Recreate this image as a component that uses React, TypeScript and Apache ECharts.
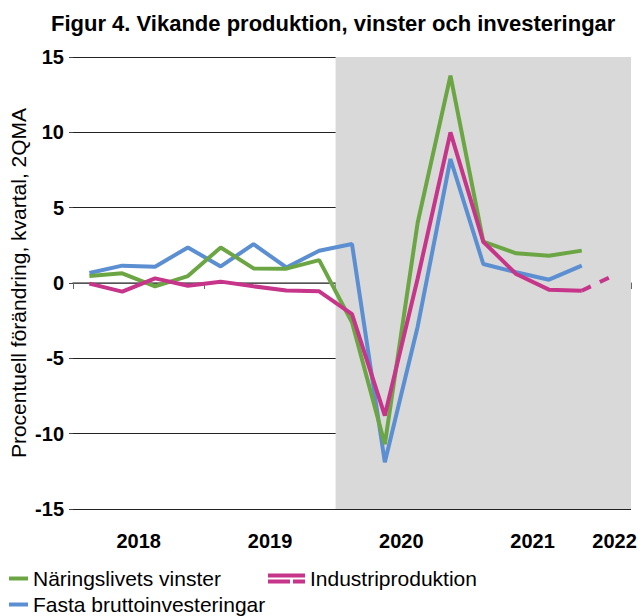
import React, { useEffect, useRef } from "react";
import * as echarts from "echarts";

const quarters = [
  "2018K1", "2018K2", "2018K3", "2018K4",
  "2019K1", "2019K2", "2019K3", "2019K4",
  "2020K1", "2020K2", "2020K3", "2020K4",
  "2021K1", "2021K2", "2021K3", "2021K4",
  "2022K1",
];

const vinster = [0.46, 0.64, -0.22, 0.46, 2.36, 0.97, 0.95, 1.52, -2.61, -10.7, 4.0, 13.76, 2.74, 1.97, 1.81, 2.15, null];
const industri = [-0.04, -0.57, 0.31, -0.18, 0.09, -0.22, -0.5, -0.55, -2.06, -8.8, 0.3, 10.0, 2.74, 0.6, -0.44, -0.51, null];
const industriPrognos = [null, null, null, null, null, null, null, null, null, null, null, null, null, null, null, -0.51, 0.53];
const investeringar = [0.66, 1.15, 1.08, 2.36, 1.1, 2.58, 1.03, 2.14, 2.59, -11.9, -2.9, 8.23, 1.26, 0.71, 0.22, 1.15, null];

const shadeFrom = 8; // index of 2020K1
const shadeTo = 17;

const FONT = "'Liberation Sans', Arial, sans-serif";
const GREEN = "#6CA644";
const MAGENTA = "#C6358A";
const BLUE = "#5B8FD1";

export default function App() {
  const ref = useRef<HTMLDivElement>(null);
  useEffect(() => {
    if (!ref.current) return;
    const chart = echarts.init(ref.current, null, { renderer: "svg" });
    const legendText = { fontFamily: FONT, fontSize: 21, color: "#000" };
    chart.setOption({
      animation: false,
      textStyle: { fontFamily: FONT },
      title: {
        text: "Figur 4. Vikande produktion, vinster och investeringar",
        left: 46,
        top: 7,
        textStyle: { fontFamily: FONT, fontSize: 22, fontWeight: "bold", color: "#000" },
      },
      grid: { left: 73, right: 13, top: 57, bottom: 107, containLabel: false, outerBoundsMode: "none" },
      legend: [
        {
          left: 9,
          top: 568,
          padding: 0,
          icon: "rect",
          itemWidth: 19,
          itemHeight: 4,
          data: ["Näringslivets vinster"],
          textStyle: legendText,
        },
        {
          left: 268,
          top: 568,
          padding: 0,
          icon: "path://M0,0H37V4H0Z M0,6H22V10H0Z M25,6H37V10H25Z",
          itemWidth: 37,
          itemHeight: 10,
          data: ["Industriproduktion"],
          textStyle: legendText,
        },
        {
          left: 9,
          top: 594,
          padding: 0,
          icon: "rect",
          itemWidth: 19,
          itemHeight: 4,
          data: ["Fasta bruttoinvesteringar"],
          textStyle: legendText,
        },
      ],
      xAxis: [
        {
          type: "category",
          data: quarters,
          boundaryGap: true,
          axisLine: { show: true, lineStyle: { color: "#666", width: 1.5 } },
          axisTick: { show: true, interval: 3, length: 6, lineStyle: { color: "#666" } },
          axisLabel: {
            interval: 0,
            margin: 22,
            formatter: (v: string) => {
              if (v.endsWith("K2")) return "{a|" + v.slice(0, 4) + "}";
              if (v === "2022K1") return "{b|2022}";
              return "";
            },
            rich: {
              a: { fontFamily: FONT, fontSize: 20, fontWeight: "bold", color: "#000", padding: [0, 0, 0, 33] },
              b: { fontFamily: FONT, fontSize: 20, fontWeight: "bold", color: "#000" },
            },
          },
          splitLine: { show: false },
        },
        {
          type: "value",
          min: 0,
          max: 17,
          show: false,
          splitLine: { show: false },
        },
      ],
      yAxis: {
        type: "value",
        min: -15,
        max: 15,
        interval: 5,
        name: "Procentuell förändring, kvartal, 2QMA",
        nameLocation: "middle",
        nameGap: 44,
        nameMoveOverlap: false,
        nameTextStyle: { fontFamily: FONT, fontSize: 21, color: "#000" },
        axisLine: { show: false },
        axisTick: { show: true, length: 4, lineStyle: { color: "#444" } },
        axisLabel: { margin: 9, fontFamily: FONT, fontSize: 20, fontWeight: "bold", color: "#000" },
        splitLine: { show: true, lineStyle: { color: "#222", width: 1 } },
      },
      series: [
        {
          name: "shade",
          type: "line",
          xAxisIndex: 1,
          data: [],
          z: -10,
          silent: true,
          markArea: {
            silent: true,
            itemStyle: { color: "#D9D9D9" },
            data: [[{ xAxis: shadeFrom }, { xAxis: shadeTo }]],
          },
        },
        {
          name: "Näringslivets vinster",
          type: "line",
          data: vinster,
          showSymbol: false,
          symbol: "none",
          itemStyle: { color: GREEN },
          lineStyle: { color: GREEN, width: 4 },
          z: 3,
        },
        {
          name: "Industriproduktion",
          type: "line",
          data: industri,
          showSymbol: false,
          symbol: "none",
          itemStyle: { color: MAGENTA },
          lineStyle: { color: MAGENTA, width: 4 },
          z: 4,
        },
        {
          name: "Industriproduktion",
          type: "line",
          data: industriPrognos,
          showSymbol: false,
          symbol: "none",
          itemStyle: { color: MAGENTA },
          lineStyle: { color: MAGENTA, width: 4, type: [10, 10] },
          z: 4,
        },
        {
          name: "Fasta bruttoinvesteringar",
          type: "line",
          data: investeringar,
          showSymbol: false,
          symbol: "none",
          itemStyle: { color: BLUE },
          lineStyle: { color: BLUE, width: 4 },
          z: 2,
        },
      ],
    });
    return () => chart.dispose();
  }, []);
  return <div ref={ref} style={{ width: 644, height: 616, position: "absolute", left: 0, top: 0 }} />;
}
